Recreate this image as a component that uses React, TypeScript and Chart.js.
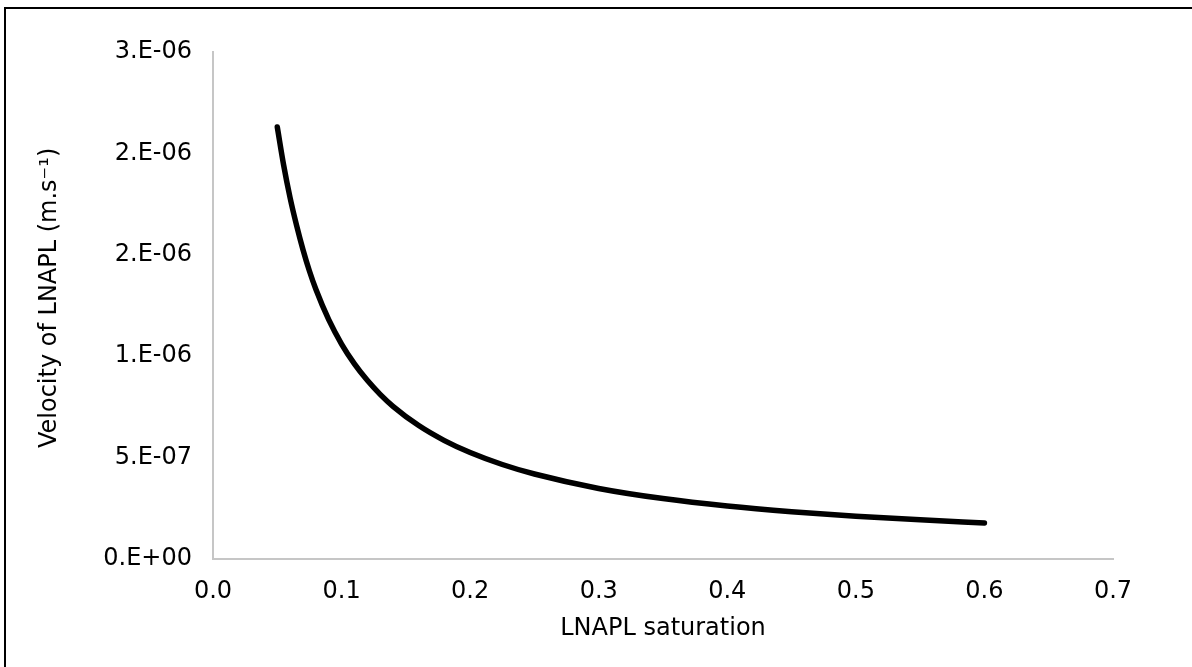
import { useEffect, useRef } from "react";
import { Chart, registerables } from "chart.js";

Chart.register(...registerables);

const saturation = [
  0.05, 0.055, 0.06, 0.065, 0.07, 0.075, 0.08, 0.09, 0.1, 0.11, 0.12, 0.13,
  0.14, 0.16, 0.18, 0.2, 0.225, 0.25, 0.3, 0.35, 0.4, 0.45, 0.5, 0.55, 0.6,
];
const velocity = [
  2.13e-6, 1.94e-6, 1.78e-6, 1.645e-6, 1.525e-6, 1.42e-6, 1.33e-6, 1.18e-6,
  1.06e-6, 0.962e-6, 0.881e-6, 0.812e-6, 0.753e-6, 0.658e-6, 0.584e-6,
  0.525e-6, 0.466e-6, 0.419e-6, 0.348e-6, 0.298e-6, 0.261e-6, 0.233e-6,
  0.211e-6, 0.193e-6, 0.178e-6,
];
const xTickLabels = ["0.0", "0.1", "0.2", "0.3", "0.4", "0.5", "0.6", "0.7"];
const yTickLabels = ["0.E+00", "5.E-07", "1.E-06", "2.E-06", "2.E-06", "3.E-06"];
const xTitle = "LNAPL saturation";
const yTitle = "  Velocity of LNAPL (m.s\u207B\u00B9)";

const FONT = "'DejaVu Sans', Verdana, sans-serif";

export default function App() {
  const ref = useRef<HTMLCanvasElement>(null);

  useEffect(() => {
    const canvas = ref.current;
    if (!canvas) return;
    const chart = new Chart(canvas, {
      type: "line",
      data: {
        datasets: [
          {
            data: saturation.map((x, i) => ({ x, y: velocity[i] })),
            borderColor: "#000000",
            borderWidth: 5.5,
            pointRadius: 0,
            borderCapStyle: "round",
            borderJoinStyle: "round",
            cubicInterpolationMode: "monotone",
            fill: false,
          },
        ],
      },
      options: {
        animation: false,
        responsive: false,
        layout: { padding: { left: 0, top: 52, right: 79, bottom: 0 } },
        plugins: { legend: { display: false }, tooltip: { enabled: false } },
        scales: {
          x: {
            type: "linear",
            min: 0,
            max: 0.7,
            grid: { display: false, drawTicks: false },
            border: { display: true, color: "#c6c6c6", width: 2 },
            ticks: {
              stepSize: 0.1,
              padding: 18,
              autoSkip: false,
              maxRotation: 0,
              color: "#000000",
              font: { family: FONT, size: 24 },
              callback: (_v: any, i: number) => xTickLabels[i],
            },
            title: {
              display: true,
              text: xTitle,
              color: "#000000",
              font: { family: FONT, size: 24 },
              padding: { top: 0, bottom: 24 },
            },
            afterFit: (s: any) => {
              s.height = 108;
            },
          },
          y: {
            type: "linear",
            min: 0,
            max: 2.5e-6,
            grid: { display: false, drawTicks: false },
            border: { display: true, color: "#c6c6c6", width: 2 },
            ticks: {
              stepSize: 5e-7,
              padding: 21,
              autoSkip: false,
              color: "#000000",
              font: { family: FONT, size: 24 },
              callback: (_v: any, i: number) => yTickLabels[i],
            },
            title: {
              display: true,
              text: yTitle,
              color: "#000000",
              font: { family: FONT, size: 24 },
              padding: { top: 35, bottom: 0 },
            },
            afterFit: (s: any) => {
              s.width = 213;
            },
          },
        },
      },
    } as any);
    return () => chart.destroy();
  }, []);

  return (
    <div
      style={{
        position: "fixed",
        left: 0,
        top: 0,
        width: 1192,
        height: 667,
        background: "#ffffff",
        overflow: "hidden",
      }}
    >
      <div
        style={{
          position: "absolute",
          left: 4,
          top: 7,
          width: 1260,
          height: 720,
          border: "2px solid #000000",
          boxSizing: "border-box",
        }}
      />
      <canvas
        ref={ref}
        width={1192}
        height={667}
        style={{ position: "absolute", left: 0, top: 0, width: 1192, height: 667 }}
      />
    </div>
  );
}
